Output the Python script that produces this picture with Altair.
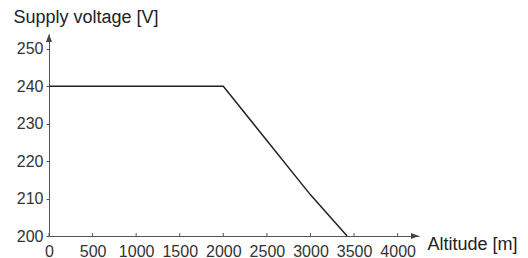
import altair as alt
import pandas as pd

altitude = [0, 2000, 3000, 3420]
voltage = [240, 240, 211, 200]
x_ticks = [0, 500, 1000, 1500, 2000, 2500, 3000, 3500, 4000]
y_ticks = [200, 205, 210, 215, 220, 225, 230, 235, 240, 245, 250]

X_MAX = 4245
Y_MIN, Y_MAX = 200, 254
W, H = 370, 202
FONT = "Liberation Sans"

line_df = pd.DataFrame({"alt": altitude, "v": voltage})
xt_df = pd.DataFrame({"alt": x_ticks})

xscale = alt.Scale(domain=[0, X_MAX], nice=False, zero=False)
yscale = alt.Scale(domain=[Y_MIN, Y_MAX], nice=False, zero=False)

x_axis = alt.Axis(
    values=x_ticks, format="d", ticks=False, grid=False, domainColor="#555", domainWidth=1,
    labelFont=FONT, labelFontSize=16, labelColor="#333", labelPadding=7,
    labelFlush=False, labelOverlap=False,
    title="Altitude [m]", titleFont=FONT, titleFontSize=18, titleFontWeight="normal",
    titleColor="#222", titleAnchor="start", titleAlign="left", titleBaseline="alphabetic",
    titleX=W + 8, titleY=13,
)
y_axis = alt.Axis(
    values=y_ticks, format="d", grid=False, domainColor="#555", domainWidth=1,
    tickColor="#555", tickSize=3, labelPadding=3,
    labelFont=FONT, labelFontSize=16, labelColor="#333",
    labelExpr="datum.value % 10 == 0 ? datum.label : ''",
    labelOverlap=False, labelFlush=False,
    title="Supply voltage [V]", titleFont=FONT, titleFontSize=18, titleFontWeight="normal",
    titleColor="#222", titleAngle=0, titleAlign="left", titleBaseline="alphabetic",
    titleX=-36, titleY=-12,
)

line = alt.Chart(line_df).mark_line(color="#222", strokeWidth=1.5).encode(
    x=alt.X("alt:Q", scale=xscale, axis=x_axis),
    y=alt.Y("v:Q", scale=yscale, axis=y_axis),
)

xticks = alt.Chart(xt_df).mark_rule(color="#555", strokeWidth=1).encode(
    x=alt.X("alt:Q", scale=xscale),
    y=alt.value(H),
    y2=alt.value(H - 3),
)

arrow_df = pd.DataFrame({"alt": [X_MAX], "v": [Y_MIN], "alt2": [0], "v2": [Y_MAX]})
x_arrow = alt.Chart(arrow_df).mark_point(
    shape="M-1,-0.375L0,0L-1,0.375Z", filled=True, color="#444", size=256, opacity=1
).encode(x=alt.X("alt:Q", scale=xscale), y=alt.Y("v:Q", scale=yscale))
y_arrow = alt.Chart(arrow_df).mark_point(
    shape="M-0.375,1L0,0L0.375,1Z", filled=True, color="#444", size=256, opacity=1
).encode(x=alt.X("alt2:Q", scale=xscale), y=alt.Y("v2:Q", scale=yscale))

chart = alt.layer(line, xticks, x_arrow, y_arrow).properties(
    width=W, height=H,
    background="white",
    padding={"left": 41, "top": 26, "right": 101, "bottom": 22},
    autosize=alt.AutoSizeParams(type="none"),
).configure_view(strokeWidth=0)

chart.save("out.html", embed_options={"renderer": "svg", "actions": False})
